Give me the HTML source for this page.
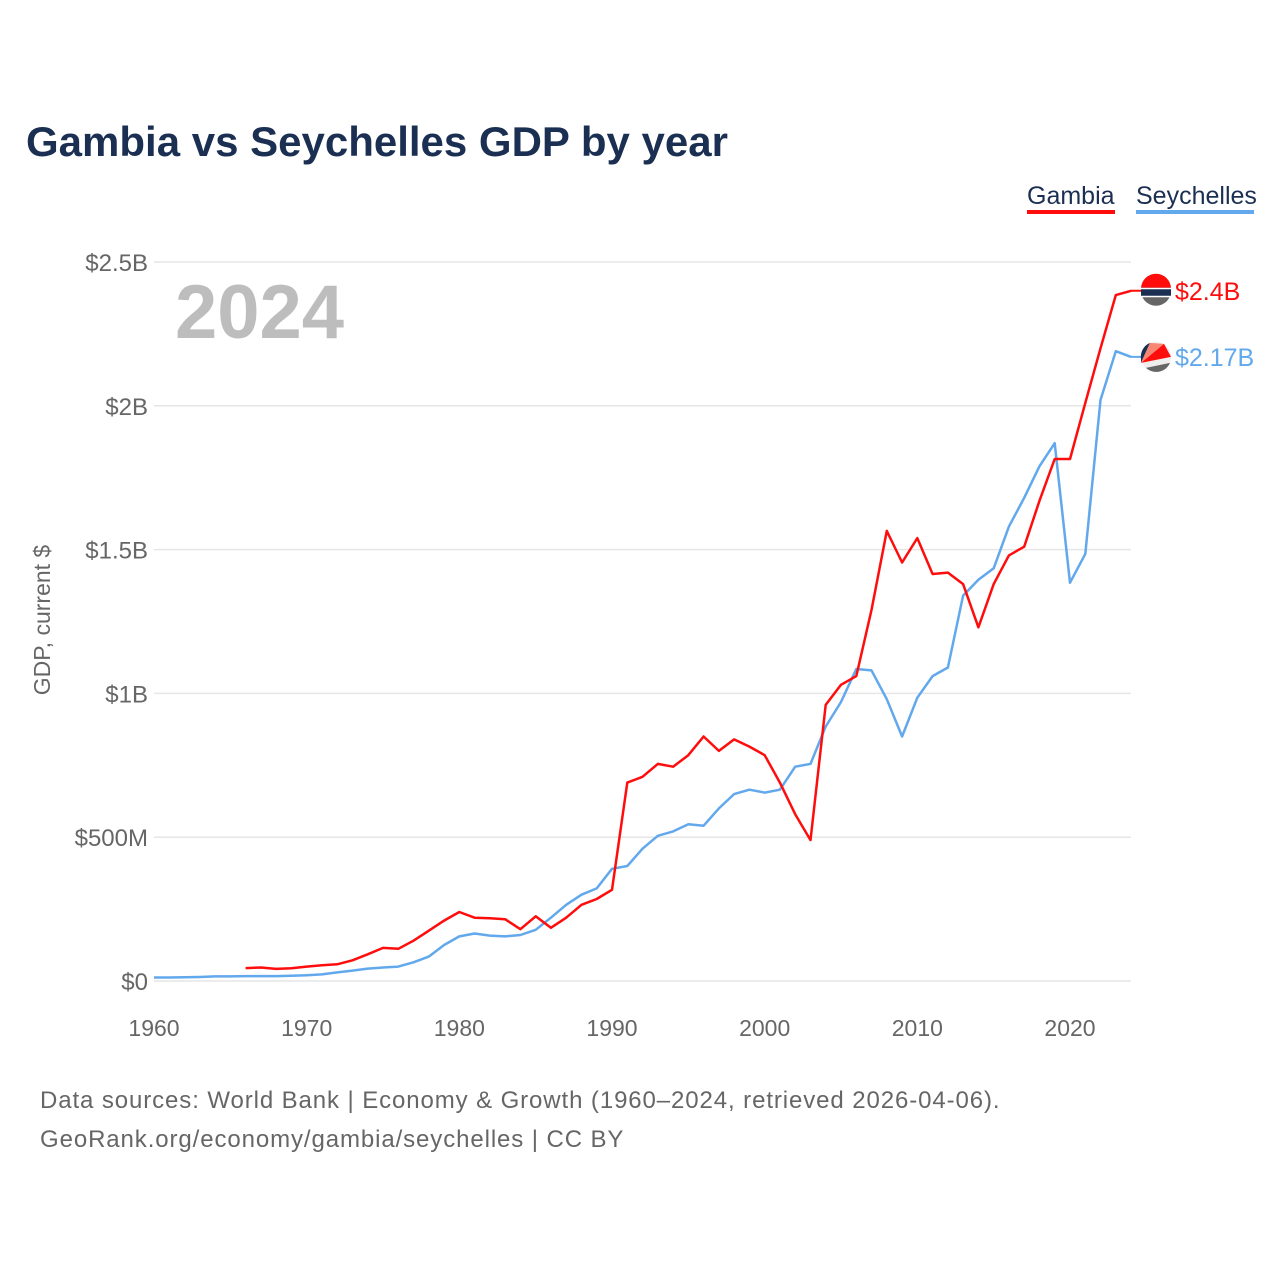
<!DOCTYPE html>
<html><head><meta charset="utf-8"><style>
body{margin:0;background:#fff;font-family:"Liberation Sans",sans-serif;}
svg text{font-family:"Liberation Sans",sans-serif;}
</style></head><body>
<svg id="chart" width="1280" height="1280" viewBox="0 0 1280 1280" xmlns="http://www.w3.org/2000/svg">
<text x="26" y="156" font-size="42" font-weight="bold" fill="#1b2f52">Gambia vs Seychelles GDP by year</text>
<g><text x="1027" y="204" font-size="25" fill="#1b2f52">Gambia</text><rect x="1027" y="210" width="88" height="4" fill="#ff0d0d"/></g>
<g><text x="1136" y="204" font-size="25" fill="#1b2f52">Seychelles</text><rect x="1136" y="210" width="118" height="4" fill="#62a8ec"/></g>
<text x="175" y="338" font-size="76" font-weight="bold" fill="#bdbdbd">2024</text>
<text transform="translate(50,620) rotate(-90)" text-anchor="middle" font-size="23" fill="#666">GDP, current $</text>
<g id="grid"></g><g id="xt"></g><g id="lines"></g><g id="ends"></g>
<text x="40" y="1108" font-size="24" letter-spacing="0.9" fill="#666">Data sources: World Bank | Economy &amp; Growth (1960–2024, retrieved 2026-04-06).</text>
<text x="40" y="1147" font-size="24" letter-spacing="0.9" fill="#666">GeoRank.org/economy/gambia/seychelles | CC BY</text>
</svg>
<script>
const yTicks=[0,0.5,1,1.5,2,2.5];
const yTickLabels=["$0","$500M","$1B","$1.5B","$2B","$2.5B"];
const xTicks=[1960,1970,1980,1990,2000,2010,2020];
const gambiaStart=1966;
const gambia=[0.045,0.047,0.042,0.044,0.050,0.055,0.058,0.072,0.093,0.115,0.112,0.14,0.175,0.21,0.24,0.22,0.218,0.215,0.18,0.225,0.185,0.22,0.265,0.285,0.317,0.69,0.71,0.755,0.745,0.785,0.85,0.8,0.84,0.815,0.785,0.69,0.58,0.49,0.96,1.03,1.06,1.29,1.565,1.455,1.54,1.415,1.42,1.38,1.23,1.38,1.48,1.51,1.67,1.815,1.815,2.01,2.2,2.385,2.40];
const seychellesStart=1960;
const seychelles=[0.012,0.012,0.013,0.014,0.016,0.016,0.017,0.017,0.017,0.018,0.02,0.023,0.03,0.036,0.043,0.047,0.05,0.065,0.085,0.125,0.155,0.165,0.158,0.155,0.16,0.178,0.22,0.265,0.3,0.322,0.39,0.4,0.46,0.505,0.52,0.545,0.54,0.6,0.65,0.665,0.655,0.665,0.745,0.755,0.885,0.97,1.085,1.08,0.98,0.85,0.985,1.06,1.09,1.34,1.395,1.435,1.58,1.68,1.79,1.87,1.385,1.485,2.02,2.19,2.17];
const endLabels=["$2.4B","$2.17B"];
const NS="http://www.w3.org/2000/svg";
const X=yr=>154+(yr-1960)*(916/60);
const Y=v=>981-v*287.6;
function mk(tag,attrs,parent,txt){const e=document.createElementNS(NS,tag);for(const k in attrs)e.setAttribute(k,attrs[k]);if(txt!=null)e.textContent=txt;parent.appendChild(e);return e;}
const grid=document.getElementById('grid');
yTicks.forEach((t,i)=>{
 const l=mk('line',{x1:154,x2:1131,y1:Y(t),y2:Y(t),stroke:'#e6e6e6','stroke-width':1.5},grid);
 
 
 const tx=mk('text',{x:148,y:Y(t)+9,'text-anchor':'end','font-size':24,fill:'#666'},grid,yTickLabels[i]);
 
 
});
const xt=document.getElementById('xt');
xTicks.forEach(t=>{
 const tx=mk('text',{x:X(t),y:1036,'text-anchor':'middle','font-size':23,fill:'#666'},xt,String(t));
 
 
});
const lines=document.getElementById('lines');
function pts(arr,start){return arr.map((v,i)=>X(start+i).toFixed(1)+','+Y(v).toFixed(1)).join(' ');}
const ps=mk('polyline',{points:pts(seychelles,seychellesStart),fill:'none',stroke:'#62a8ec','stroke-width':2.5,'stroke-linejoin':'round'},lines);


const pg=mk('polyline',{points:pts(gambia,gambiaStart),fill:'none',stroke:'#ff0d0d','stroke-width':2.5,'stroke-linejoin':'round'},lines);


const ends=document.getElementById('ends');
const series=[[gambia,'#ff0d0d'],[seychelles,'#62a8ec']];
series.forEach((s,i)=>{
 const v=s[0][s[0].length-1];const y=Y(v);
 const fx=1156;
 const g=mk('g',{},ends);
 
 
 mk('line',{x1:1131,x2:fx,y1:y,y2:y,stroke:s[1],'stroke-width':2},g);
 if(i==0){
  mk('circle',{cx:fx,cy:y,r:15,fill:'#666'},g);
  mk('path',{d:`M${fx-15},${y-2} A15,15 0 0 1 ${fx+15},${y-2} Z`,fill:'#ff0d0d'},g);
  mk('rect',{x:fx-15,y:y-3,width:30,height:9,fill:'#1b2f52'},g);
  mk('rect',{x:fx-15,y:y-3,width:30,height:1.5,fill:'#fff'},g);
  mk('rect',{x:fx-15,y:y+5,width:30,height:1.5,fill:'#fff'},g);
 } else {
  mk('circle',{cx:fx,cy:y,r:15,fill:'#eee'},g);
  mk('path',{d:`M${fx-15},${y+6} L${fx-6},${y-14} A15,15 0 0 0 ${fx-15},${y+2} Z`,fill:'#1b2f52'},g);
  mk('path',{d:`M${fx-15},${y+6} L${fx-6},${y-14} L${fx+8},${y-13} Z`,fill:'#f78672'},g);
  mk('path',{d:`M${fx-15},${y+6} L${fx+8},${y-13} L${fx+15},${y} Z`,fill:'#ff0d0d'},g);
  mk('path',{d:`M${fx-10},${y+11} L${fx+14},${y+6} A15,15 0 0 1 ${fx-10},${y+11} Z`,fill:'#666'},g);
 }
 const t=mk('text',{x:1175,y:y+9,'font-size':25,fill:s[1]},ends,endLabels[i]);
 
 
});
</script>
</body></html>
